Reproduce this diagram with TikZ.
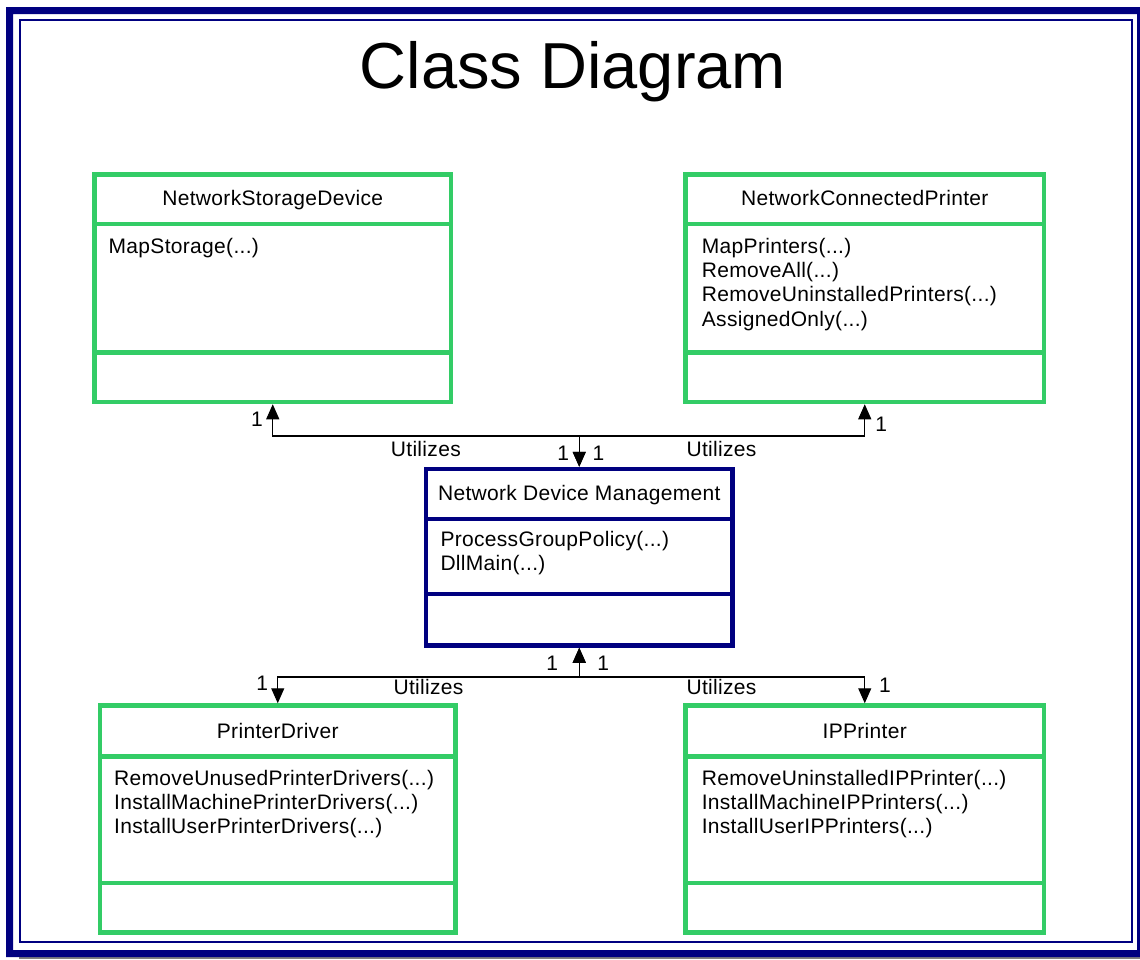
\documentclass[tikz,border=0pt]{standalone}
\usepackage{fontspec}
\setmainfont{Liberation Sans}
\newfontfamily\bodyfont[LetterSpace=1.5]{Liberation Sans}
\usetikzlibrary{arrows.meta}
\definecolor{umlgreen}{RGB}{51,204,102}
\definecolor{framenavy}{RGB}{0,0,128}
\definecolor{shadowgrey}{RGB}{128,128,128}
% argument placeholder for operation signatures
\newcommand\opargs{(...)}
\begin{document}
\begin{tikzpicture}[x=1pt,y=-1pt,
  classbox/.style={draw=umlgreen, line width=4.5pt, fill=white, inner sep=0pt, rectangle},
  corebox/.style={classbox, draw=framenavy},
  sepline/.style={line width=4.5pt},
  txt/.style={inner sep=0pt, font=\bodyfont\fontsize{21}{24}\selectfont},
  cname/.style={txt, anchor=base},
  meth/.style={txt, anchor=base west},
  lbl/.style={txt, anchor=base},
  uses/.style={line width=1.1pt,
    {Triangle[length=15pt,width=13pt]}-{Triangle[length=15pt,width=13pt]}},
]
\useasboundingbox (0,0) rectangle (1140,959);
\fill[white] (0,0) rectangle (1140,959);

% page frame: thick outer band, drop shadow, thin inner rule
\fill[shadowgrey] (19,956.5) rectangle (1140,959);
\fill[framenavy, even odd rule] (6,7) rectangle (1141,957) (13,14) rectangle (1137,950);
\draw[framenavy, line width=2pt] (20,20) rectangle (1132,942);

% title
\node[inner sep=0pt, anchor=base, font=\fontsize{65}{70}\selectfont] (title) at (573,88) {Class Diagram};

% class boxes
\node[classbox, minimum width=356.5pt, minimum height=227.5pt] (nsd) at (272.75,288.25) {};
\node[classbox, minimum width=358.5pt, minimum height=227.5pt] (ncp) at (864.75,288.25) {};
\node[corebox, minimum width=306.5pt, minimum height=176.5pt] (ndm) at (579.25,557.25) {};
\node[classbox, minimum width=355.5pt, minimum height=227pt] (pd) at (277.75,819) {};
\node[classbox, minimum width=358.5pt, minimum height=227pt] (ipp) at (864.75,819) {};

% compartment separators
\foreach \b/\ya/\yb in {nsd/224/352.5, ncp/224/352.5, pd/756.5/883, ipp/756.5/883} {
  \draw[sepline, umlgreen] (\b.west |- 0,\ya) -- (\b.east |- 0,\ya);
  \draw[sepline, umlgreen] (\b.west |- 0,\yb) -- (\b.east |- 0,\yb);
}
\draw[sepline, framenavy] (ndm.west |- 0,519) -- (ndm.east |- 0,519);
\draw[sepline, framenavy] (ndm.west |- 0,594) -- (ndm.east |- 0,594);

% class names
\node[cname] (nsd-name) at (272.75,205.7) {NetworkStorageDevice};
\node[cname] (ncp-name) at (864.75,205.7) {NetworkConnectedPrinter};
\node[cname] (ndm-name) at (579.25,500.7) {Network Device Management};
\node[cname] (pd-name) at (277.75,738.3) {PrinterDriver};
\node[cname] (ipp-name) at (864.75,738.3) {IPPrinter};

% operations
\node[meth] (nsd-m1) at (108.5,253.3) {MapStorage\opargs};
\foreach \t [count=\i] in {MapPrinters, RemoveAll, RemoveUninstalledPrinters, AssignedOnly}
  \node[meth] (ncp-m\i) at ({701.7},{253.3+24.3*(\i-1)}) {\t\opargs};
\foreach \t [count=\i] in {ProcessGroupPolicy, DllMain}
  \node[meth] (ndm-m\i) at ({440.3},{546+24.3*(\i-1)}) {\t\opargs};
\foreach \t [count=\i] in {RemoveUnusedPrinterDrivers, InstallMachinePrinterDrivers, InstallUserPrinterDrivers}
  \node[meth] (pd-m\i) at ({114},{785+24.3*(\i-1)}) {\t\opargs};
\foreach \t [count=\i] in {RemoveUninstalledIPPrinter, InstallMachineIPPrinters, InstallUserIPPrinters}
  \node[meth] (ipp-m\i) at ({701.6},{785+24.3*(\i-1)}) {\t\opargs};

% association buses
\coordinate (topbus) at (ndm.north |- 0,436);
\coordinate (botbus) at (ndm.south |- 0,677);
\draw[uses] (ndm.north) -- (topbus) -| (nsd.south);
\draw[uses] (ndm.north) -- (topbus) -| (ncp.south);
\draw[uses] (ndm.south) -- (botbus) -| (pd.north);
\draw[uses] (ndm.south) -- (botbus) -| (ipp.north);

% association labels and multiplicities
\node[lbl] (m-nsd) at (257,426.7) {1};
\node[txt, anchor=base west] (u-tl) at (390.7,456.7) {Utilizes};
\node[lbl] (m-ndm-tl) at (563.3,460) {1};
\node[lbl] (m-ndm-tr) at (598.5,460) {1};
\node[txt, anchor=base west] (u-tr) at (686.4,456.7) {Utilizes};
\node[lbl] (m-ncp) at (881.3,431) {1};

\node[lbl] (m-ndm-bl) at (552.3,670.7) {1};
\node[lbl] (m-ndm-br) at (603.3,670.7) {1};
\node[lbl] (m-pd) at (262.3,690) {1};
\node[txt, anchor=base west] (u-bl) at (393.4,694) {Utilizes};
\node[txt, anchor=base west] (u-br) at (686.4,694) {Utilizes};
\node[lbl] (m-ipp) at (885,692.3) {1};
\end{tikzpicture}
\end{document}
